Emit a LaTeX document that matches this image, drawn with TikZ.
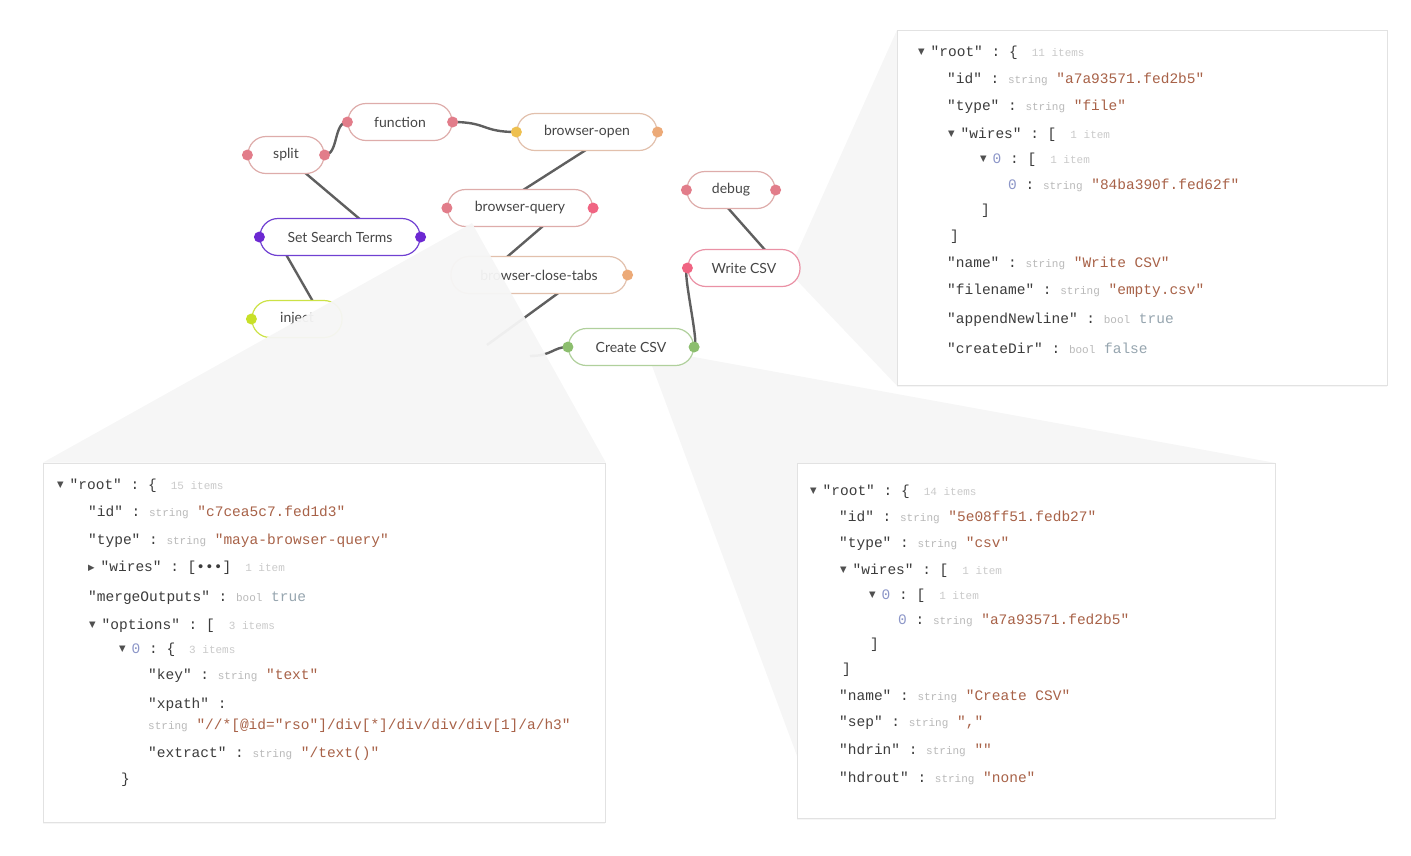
\documentclass[tikz,border=0pt]{standalone}
\usepackage{fontspec}
\setmonofont{Liberation Mono}
\newfontfamily\nodefont{Lato}
\newfontfamily\symfont{DejaVu Sans}
\usepackage{xcolor}
\usetikzlibrary{backgrounds, shadows, calc}

% node colours
\definecolor{nodetext}{RGB}{70,70,70}
\definecolor{wirec}{RGB}{95,95,95}
\definecolor{splitb}{RGB}{222,172,170}
\definecolor{pinkp}{RGB}{226,125,138}
\definecolor{hotp}{RGB}{240,100,130}
\definecolor{orangeb}{RGB}{226,192,172}
\definecolor{orangep}{RGB}{236,170,120}
\definecolor{yellowp}{RGB}{238,192,80}
\definecolor{purpleb}{RGB}{112,64,210}
\definecolor{purplep}{RGB}{108,40,210}
\definecolor{limeb}{RGB}{204,226,70}
\definecolor{limep}{RGB}{200,224,40}
\definecolor{writeb}{RGB}{234,145,165}
\definecolor{greenb}{RGB}{176,208,156}
\definecolor{greenp}{RGB}{140,190,110}
% viewer colours
\definecolor{jkey}{RGB}{60,60,60}
\definecolor{jtype}{RGB}{185,185,185}
\definecolor{jval}{RGB}{168,98,72}
\definecolor{jbool}{RGB}{150,165,175}
\definecolor{jcnt}{RGB}{202,202,202}
\definecolor{jidx}{RGB}{140,150,200}
\definecolor{jtri}{RGB}{80,80,80}
\definecolor{panelb}{RGB}{226,226,226}
\definecolor{wedgec}{RGB}{246,246,246}

\newcommand\jtd{\raisebox{1.8pt}{\symfont\fontsize{8.5}{9}\selectfont\textcolor{jtri}{▼}}\hspace{6pt}}
\newcommand\jtr{\raisebox{1.5pt}{\symfont\fontsize{8.5}{9}\selectfont\textcolor{jtri}{▶}}\hspace{6pt}}
\newcommand\jst[1]{{\fontsize{11}{11}\selectfont\textcolor{jtype}{#1}}}
\newcommand\jsv[1]{\textcolor{jval}{#1}}
\newcommand\jsb[1]{\textcolor{jbool}{#1}}
\newcommand\jsi[1]{\textcolor{jidx}{#1}}
\newcommand\jsc[1]{\hspace{14pt}{\fontsize{11}{11}\selectfont\textcolor{jcnt}{#1}}}

\begin{document}
\begin{tikzpicture}[
  x=1pt, y=-1pt,
  flownode/.style={
    rectangle, rounded corners=18pt, draw=#1, line width=1.2pt,
    fill=white, minimum height=37pt, inner sep=0pt,
    font=\nodefont\fontsize{14}{14}\selectfont, text=nodetext
  },
  wire/.style={draw=wirec, line width=2.4pt},
  wedge/.style={fill=wedgec, draw=none},
  panel/.style={
    rectangle, draw=panelb, line width=0.8pt, fill=white,
    anchor=north west, inner sep=0pt,
    drop shadow={opacity=0.07, shadow xshift=0pt, shadow yshift=-2pt}
  },
  jline/.style={anchor=west, inner sep=0pt, text=jkey,
    font=\ttfamily\fontsize{14.5}{16}\selectfont}
]
\useasboundingbox (0,0) rectangle (1411,855);

% Flow nodes
\node[flownode=splitb, minimum width=76pt] (split) at (286,155) {split};
\node[flownode=splitb, minimum width=104pt] (function) at (400,122) {function};
\node[flownode=orangeb, minimum width=140pt] (bopen) at (587,132) {browser-open};
\node[flownode=splitb, minimum width=145pt] (bquery) at (520,208) {browser-query};
\node[flownode=purpleb, minimum width=160pt] (sst) at (340,237) {Set Search Terms};
\node[flownode=orangeb, minimum width=176pt] (bclose) at (539,275) {browser-close-tabs};
\node[flownode=limeb, minimum width=90pt] (inject) at (297,319) {inject};
\node[flownode=splitb, minimum width=88pt] (debug) at (731,190) {debug};
\node[flownode=writeb, minimum width=112pt] (write) at (744,268) {Write CSV};
\node[flownode=greenb, minimum width=125pt] (create) at (631,347) {Create CSV};
\coordinate (hidq) at (487,345);
\coordinate (hidr) at (530,356);

% Ports
\fill[pinkp] (split.west) circle[radius=5.5pt];
\fill[pinkp] (split.east) circle[radius=5.5pt];
\fill[pinkp] (function.west) circle[radius=5.5pt];
\fill[pinkp] (function.east) circle[radius=5.5pt];
\fill[yellowp] (bopen.west) circle[radius=5.5pt];
\fill[orangep] (bopen.east) circle[radius=5.5pt];
\fill[pinkp] (bquery.west) circle[radius=5.5pt];
\fill[hotp] (bquery.east) circle[radius=5.5pt];
\fill[purplep] (sst.west) circle[radius=5.5pt];
\fill[purplep] (sst.east) circle[radius=5.5pt];
\fill[orangep] (bclose.east) circle[radius=5.5pt];
\fill[limep] (inject.west) circle[radius=5.5pt];
\fill[pinkp] (debug.west) circle[radius=5.5pt];
\fill[pinkp] (debug.east) circle[radius=5.5pt];
\fill[hotp] (write.west) circle[radius=5.5pt];
\fill[greenp] (create.west) circle[radius=5.5pt];
\fill[greenp] (create.east) circle[radius=5.5pt];

% Viewer panels
\node[panel, minimum width=490pt, minimum height=355pt] (wpanel) at (897,30) {};
\node[panel, minimum width=562pt, minimum height=359pt] (lpanel) at (43,463) {};
\node[panel, minimum width=478pt, minimum height=355pt] (bpanel) at (797,463) {};

% Callout wedges and wires
\fill[wedge, opacity=0.95] ([xshift=-48pt,yshift=4pt]bquery.south) -- ([yshift=0.5pt]lpanel.north west)
  -- ([yshift=0.5pt]lpanel.north east) -- cycle;
\begin{scope}[on background layer]
  \fill[wedge] ([xshift=-6pt,yshift=10pt]write.east) -- (wpanel.north west)
    -- (wpanel.south west) -- ([xshift=-6pt,yshift=-10pt]write.east) -- cycle;
  \fill[wedge] ([xshift=20pt,yshift=3pt]create.south) -- ([yshift=63pt]bpanel.south west)
    -- (bpanel.north east) -- ([xshift=58pt,yshift=10pt]create.south) -- cycle;
  \draw[wire] (split.east) .. controls +(14,0) and +(-14,0) .. (function.west);
  \draw[wire] (function.east) .. controls +(35,0) and +(-35,0) .. (bopen.west);
  \draw[wire] ([xshift=-2pt]split.center) -- ([xshift=41pt]sst.center);
  \draw[wire] ([xshift=-64pt]sst.center) -- ([xshift=26pt]inject.center);
  \draw[wire] ([xshift=27pt]bopen.center) -- ([xshift=-25pt]bquery.center);
  \draw[wire] ([xshift=44pt]bquery.center) -- ([xshift=-53pt]bclose.center);
  \draw[wire] ([xshift=44pt]bclose.center) -- (hidq);
  \draw[wire] (hidr) .. controls +(22,0) and +(-15,0) .. (create.west);
  \draw[wire] ([xshift=-19pt]debug.center) -- ([xshift=37pt]write.center);
  \draw[wire] (create.east) .. controls +(6,0) and +(-6,0) .. (write.west);
\end{scope}

% Write CSV object
\node[jline] (w1) at (918,53) {\jtd"root" : \{\jsc{11 items}};
\node[jline] (w2) at (947,79) {"id" : \jst{string} \jsv{"a7a93571.fed2b5"}};
\node[jline] (w3) at (947,107) {"type" : \jst{string} \jsv{"file"}};
\node[jline] (w4) at (948,135) {\jtd"wires" : [\jsc{1 item}};
\node[jline] (w5) at (980,160) {\jtd\jsi{0} : [\jsc{1 item}};
\node[jline] (w6) at (1008,185) {\jsi{0} : \jst{string} \jsv{"84ba390f.fed62f"}};
\node[jline] (w7) at (981,211) {]};
\node[jline] (w8) at (950,237) {]};
\node[jline] (w9) at (947,263) {"name" : \jst{string} \jsv{"Write CSV"}};
\node[jline] (w10) at (947,291) {"filename" : \jst{string} \jsv{"empty.csv"}};
\node[jline] (w11) at (947,320) {"appendNewline" : \jst{bool} \jsb{true}};
\node[jline] (w12) at (947,348) {"createDir" : \jst{bool} \jsb{false}};

% browser-query object
\node[jline] (l1) at (57,486) {\jtd"root" : \{\jsc{15 items}};
\node[jline] (l2) at (88,512) {"id" : \jst{string} \jsv{"c7cea5c7.fed1d3"}};
\node[jline] (l3) at (88,541) {"type" : \jst{string} \jsv{"maya-browser-query"}};
\node[jline] (l4) at (88,568) {\jtr"wires" : [•••]\jsc{1 item}};
\node[jline] (l5) at (88,598) {"mergeOutputs" : \jst{bool} \jsb{true}};
\node[jline] (l6) at (89,626) {\jtd"options" : [\jsc{3 items}};
\node[jline] (l7) at (119,650) {\jtd\jsi{0} : \{\jsc{3 items}};
\node[jline] (l8) at (148,676) {"key" : \jst{string} \jsv{"text"}};
\node[jline] (l9) at (148,705) {"xpath" :};
\node[jline] (l10) at (148,726) {\jst{string} \jsv{"//*[@id="rso"]/div[*]/div/div/div[1]/a/h3"}};
\node[jline] (l11) at (148,754) {"extract" : \jst{string} \jsv{"/text()"}};
\node[jline] (l12) at (121,780) {\}};

% Create CSV object
\node[jline] (b1) at (810,492) {\jtd"root" : \{\jsc{14 items}};
\node[jline] (b2) at (839,517) {"id" : \jst{string} \jsv{"5e08ff51.fedb27"}};
\node[jline] (b3) at (839,544) {"type" : \jst{string} \jsv{"csv"}};
\node[jline] (b4) at (840,571) {\jtd"wires" : [\jsc{1 item}};
\node[jline] (b5) at (869,596) {\jtd\jsi{0} : [\jsc{1 item}};
\node[jline] (b6) at (898,620) {\jsi{0} : \jst{string} \jsv{"a7a93571.fed2b5"}};
\node[jline] (b7) at (870,645) {]};
\node[jline] (b8) at (842,670) {]};
\node[jline] (b9) at (839,696) {"name" : \jst{string} \jsv{"Create CSV"}};
\node[jline] (b10) at (839,723) {"sep" : \jst{string} \jsv{","}};
\node[jline] (b11) at (839,750) {"hdrin" : \jst{string} \jsv{""}};
\node[jline] (b12) at (839,778) {"hdrout" : \jst{string} \jsv{"none"}};

\end{tikzpicture}
\end{document}
